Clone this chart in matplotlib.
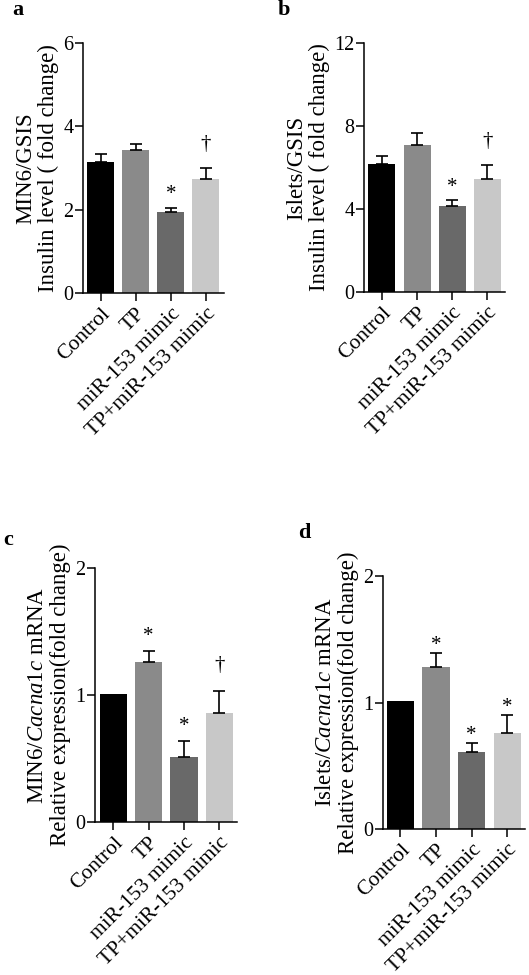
import matplotlib
matplotlib.use("Agg")
import matplotlib.pyplot as plt

plt.rcParams['font.family'] = ['Liberation Serif', 'DejaVu Serif']
plt.rcParams['mathtext.fontset'] = 'custom'
plt.rcParams['mathtext.rm'] = 'Liberation Serif'
plt.rcParams['mathtext.it'] = 'Liberation Serif:italic'

# data
groups = ['Control', 'TP', 'miR-153 mimic', 'TP+miR-153 mimic']
bar_colors = ['#000000', '#8a8a8a', '#696969', '#c8c8c8']

a_vals = [3.14, 3.44, 1.94, 2.74]
a_err = [0.20, 0.14, 0.11, 0.26]
a_marks = ['', '', '*', '\u2020']

b_vals = [6.15, 7.07, 4.14, 5.46]
b_err = [0.39, 0.59, 0.28, 0.66]
b_marks = ['', '', '*', '\u2020']

c_vals = [1.01, 1.26, 0.51, 0.86]
c_err = [0.0, 0.09, 0.13, 0.17]
c_marks = ['', '*', '*', '\u2020']

d_vals = [1.01, 1.28, 0.61, 0.76]
d_err = [0.0, 0.11, 0.07, 0.14]
d_marks = ['', '*', '*', '*']

W, H = 529, 975
fig = plt.figure(figsize=(W / 100, H / 100), dpi=100)


def rect(x0, x1, ytop, ybot):
    return [x0 / W, 1 - ybot / H, (x1 - x0) / W, (ybot - ytop) / H]


def panel(r, xlim, vals, errs, marks, ymax, yticks, ylabel, star_off):
    ax = fig.add_axes(r)
    x = list(range(len(vals)))
    ax.bar(x, vals, width=0.77, color=bar_colors, edgecolor='none')
    for i in x:
        if errs[i] > 0:
            ax.errorbar(i, vals[i], yerr=[[0], [errs[i]]], fmt='none',
                        ecolor='black', elinewidth=1.2, capsize=4.5, capthick=1.2)
        if marks[i]:
            off = star_off if marks[i] == '*' else star_off + 8
            ax.annotate(marks[i], (i, vals[i] + errs[i]), xytext=(0, off),
                        textcoords='offset points', ha='center', va='baseline',
                        fontsize=15)
    ax.set_xlim(xlim)
    ax.set_ylim(0, ymax)
    ax.set_yticks(yticks)
    ax.set_xticks(x)
    ax.set_xticklabels(groups, rotation=45, ha='right', rotation_mode='anchor', fontsize=15.5)
    ax.tick_params(axis='y', labelsize=14.5, width=1.1, length=5.5, pad=1.5)
    ax.tick_params(axis='x', width=1.1, length=6, pad=2)
    for s in ['top', 'right']:
        ax.spines[s].set_visible(False)
    for s in ['left', 'bottom']:
        ax.spines[s].set_linewidth(1.1)
    ax.set_ylabel(ylabel, fontsize=16.5, labelpad=3, linespacing=1.1)
    return ax


panel(rect(83, 224, 43, 293), (-0.51, 3.52), a_vals, a_err, a_marks, 6, [0, 2, 4, 6],
      'MIN6/GSIS\nInsulin level ( fold change)', 6)
panel(rect(364, 505, 43, 292), (-0.51, 3.5), b_vals, b_err, b_marks, 12, [0, 4, 8, 12],
      'Islets/GSIS\nInsulin level ( fold change)', 6)
panel(rect(95, 237, 568, 822), (-0.52, 3.5), c_vals, c_err, c_marks, 2, [0, 1, 2],
      'MIN6/$\\mathit{Cacna1c}$ mRNA\nRelative expression(fold change)', 7)
panel(rect(383, 525, 576, 829), (-0.49, 3.5), d_vals, d_err, d_marks, 2, [0, 1, 2],
      'Islets/$\\mathit{Cacna1c}$ mRNA\nRelative expression(fold change)', 2)

for lab, px, py in [('a', 12, 15), ('b', 278, 15), ('c', 3, 545), ('d', 298, 538)]:
    fig.text(px / W, 1 - py / H, lab, fontsize=16, fontweight='bold', va='baseline')

fig.savefig('out.png', dpi=100)
